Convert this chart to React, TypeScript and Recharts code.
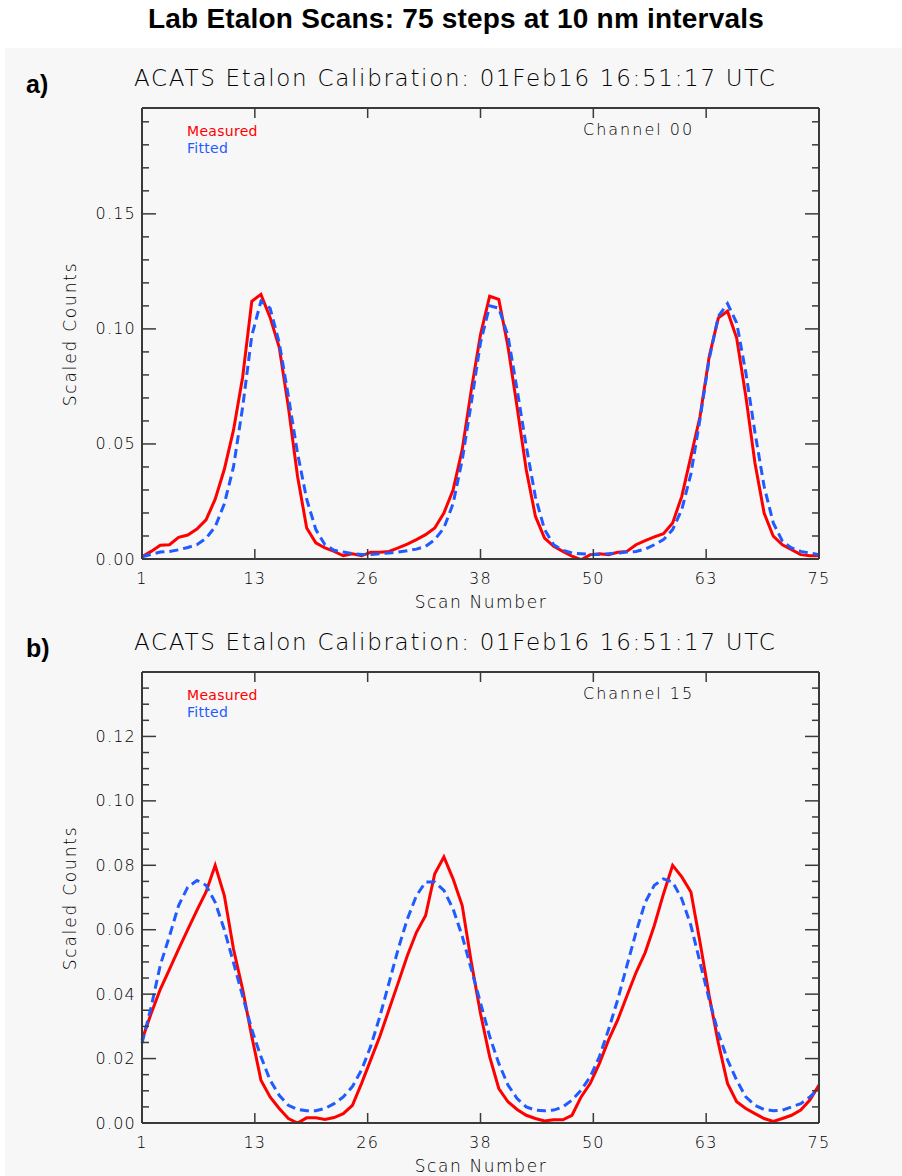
import React from "react";
import { LineChart, Line, XAxis, YAxis } from "recharts";

// scan index 1..75
const scans = Array.from({ length: 75 }, (_, i) => i + 1);

// panel a) channel 00
const measuredA = [
  0.001, 0.0033, 0.006, 0.0062, 0.0094, 0.0104, 0.013, 0.017, 0.026, 0.039,
  0.056, 0.079, 0.112, 0.115, 0.105, 0.092, 0.066, 0.036, 0.0135, 0.007,
  0.0048, 0.0033, 0.0014, 0.0023, 0.0014, 0.0029, 0.0029, 0.0033, 0.0048, 0.0065,
  0.0084, 0.0106, 0.0135, 0.02, 0.03, 0.0475, 0.0736, 0.0975, 0.1142, 0.1128,
  0.0925, 0.066, 0.0388, 0.0186, 0.0091, 0.0055, 0.0033, 0.0012, -0.0003, 0.0019,
  0.0023, 0.0019, 0.0029, 0.0033, 0.0062, 0.008, 0.0096, 0.011, 0.0157, 0.0272,
  0.0446, 0.062, 0.088, 0.1048, 0.1077, 0.096, 0.0707, 0.0417, 0.02, 0.0099,
  0.0062, 0.0041, 0.0019, 0.0014, 0.0014,
];
const fittedA = [
  0.001, 0.002, 0.003, 0.0033, 0.004, 0.005, 0.0062, 0.009, 0.014, 0.024,
  0.04, 0.066, 0.097, 0.112, 0.109, 0.094, 0.0707, 0.046, 0.026, 0.0128,
  0.0062, 0.0038, 0.003, 0.0023, 0.002, 0.002, 0.0023, 0.0026, 0.003, 0.0036,
  0.0043, 0.0055, 0.0084, 0.0135, 0.024, 0.043, 0.068, 0.094, 0.11, 0.109,
  0.097, 0.0736, 0.049, 0.027, 0.0128, 0.0062, 0.0038, 0.0026, 0.0023, 0.002,
  0.002, 0.0023, 0.0026, 0.003, 0.0033, 0.0043, 0.0062, 0.0084, 0.0128, 0.0215,
  0.037, 0.061, 0.087, 0.1055, 0.111, 0.1026, 0.081, 0.055, 0.0316, 0.0157,
  0.0077, 0.0048, 0.0033, 0.0026, 0.0019,
];

// panel b) channel 15
const measuredB = [
  0.0258, 0.034, 0.0415, 0.0477, 0.054, 0.06, 0.066, 0.0717, 0.08, 0.0706,
  0.054, 0.0415, 0.0269, 0.0133, 0.0081, 0.0045, 0.0014, 0.0, 0.0016, 0.0016,
  0.0011, 0.0017, 0.0029, 0.0055, 0.0123, 0.0196, 0.0269, 0.0352, 0.0435, 0.0519,
  0.0592, 0.0644, 0.0774, 0.0826, 0.0758, 0.0675, 0.0498, 0.034, 0.0206, 0.0107,
  0.0066, 0.0042, 0.0024, 0.0014, 0.0006, 0.001, 0.001, 0.0024, 0.0081, 0.0123,
  0.0185, 0.0258, 0.032, 0.0394, 0.0467, 0.0529, 0.0613, 0.0711, 0.08, 0.0764,
  0.0717, 0.056, 0.0394, 0.0248, 0.0123, 0.0066, 0.0045, 0.0029, 0.0014, 0.0005,
  0.0014, 0.0024, 0.004, 0.0071, 0.0118,
];
const fittedB = [
  0.0248, 0.036, 0.049, 0.058, 0.0675, 0.0732, 0.0753, 0.0738, 0.0685, 0.06,
  0.0498, 0.0394, 0.029, 0.0206, 0.0133, 0.0086, 0.0055, 0.0042, 0.0038, 0.0038,
  0.0045, 0.006, 0.0081, 0.0113, 0.0165, 0.0238, 0.0331, 0.0435, 0.054, 0.0633,
  0.0706, 0.0748, 0.0748, 0.0722, 0.0665, 0.058, 0.0477, 0.0373, 0.0269, 0.0185,
  0.0118, 0.0076, 0.005, 0.004, 0.0038, 0.004, 0.005, 0.0071, 0.0102, 0.0144,
  0.0206, 0.029, 0.0383, 0.0488, 0.0592, 0.0685, 0.0738, 0.0758, 0.0748, 0.0696,
  0.0613, 0.0498, 0.0383, 0.0279, 0.0196, 0.0133, 0.0081, 0.0055, 0.0042, 0.0038,
  0.004, 0.005, 0.006, 0.0081, 0.0107,
];

// x axis: 6 equal intervals, labels rounded
const xTicks = [1, 13.333, 25.667, 38, 50.333, 62.667, 75];
const xTickLabels = ["1", "13", "26", "38", "50", "63", "75"];

const yMajorA = [0, 0.05, 0.1, 0.15];
const yLabelsA = ["0.00", "0.05", "0.10", "0.15"];
const yMinorA = [
  0, 0.01, 0.02, 0.03, 0.04, 0.05, 0.06, 0.07, 0.08, 0.09, 0.1, 0.11, 0.12,
  0.13, 0.14, 0.15, 0.16, 0.17, 0.18, 0.19,
];
const yMaxA = 0.196;

const yMajorB = [0, 0.02, 0.04, 0.06, 0.08, 0.1, 0.12];
const yLabelsB = ["0.00", "0.02", "0.04", "0.06", "0.08", "0.10", "0.12"];
const yMinorB = [
  0, 0.005, 0.01, 0.015, 0.02, 0.025, 0.03, 0.035, 0.04, 0.045, 0.05, 0.055,
  0.06, 0.065, 0.07, 0.075, 0.08, 0.085, 0.09, 0.095, 0.1, 0.105, 0.11, 0.115,
  0.12, 0.125, 0.13, 0.135,
];
const yMaxB = 0.14;

const AXIS = "#3a3a3a";
const TXT = "#000";
const RED = "#ff0000";
const BLUE = "#1f5bff";
const idlFont = "'DejaVu Sans', sans-serif";
const IDL_WEIGHT = 300;
const boldFont = "'Liberation Sans', Arial, sans-serif";

const findMajor = (majors: number[], v: number) =>
  majors.findIndex((m) => Math.abs(m - v) < 1e-6);

const makeYTick = (majors: number[], labels: string[], side: "left" | "right") =>
  (props: any) => {
    const { x, y, payload } = props;
    const idx = findMajor(majors, payload.value);
    const len = idx >= 0 ? 14 : 7;
    const dir = side === "left" ? 1 : -1;
    return (
      <g>
        <line x1={x} x2={x + dir * len} y1={y} y2={y} stroke={AXIS} strokeWidth={1.5} />
        {side === "left" && idx >= 0 && (
          <text
            x={x - 6}
            y={y}
            dominantBaseline="central"
            textAnchor="end"
            fontFamily={idlFont}
            fontWeight={IDL_WEIGHT}
            fontSize={16}
            letterSpacing={1.2}
            fill={TXT}
          >
            {labels[idx]}
          </text>
        )}
      </g>
    );
  };

const makeXTick = (side: "top" | "bottom") => (props: any) => {
  const { x, y, payload } = props;
  const idx = findMajor(xTicks, payload.value);
  const dir = side === "bottom" ? -1 : 1;
  return (
    <g>
      <line x1={x} x2={x} y1={y} y2={y + dir * 10} stroke={AXIS} strokeWidth={1.5} />
      {side === "bottom" && (
        <text
          x={x}
          y={y + 19}
          dominantBaseline="central"
          textAnchor="middle"
          fontFamily={idlFont}
          fontWeight={IDL_WEIGHT}
          fontSize={16}
          letterSpacing={1.2}
          fill={TXT}
        >
          {xTickLabels[idx]}
        </text>
      )}
    </g>
  );
};

type PanelProps = {
  top: number;
  letter: string;
  channel: string;
  measured: number[];
  fitted: number[];
  yMajor: number[];
  yLabels: string[];
  yMinor: number[];
  yMax: number;
};

// plot box: x 142..819, y top+58..top+509
function Panel({ top, letter, channel, measured, fitted, yMajor, yLabels, yMinor, yMax }: PanelProps) {
  const data = scans.map((s, i) => ({ scan: s, measured: measured[i], fitted: fitted[i] }));
  const plotTop = top + 58;
  const plotBottom = top + 509;
  const text = (style: React.CSSProperties, children: React.ReactNode) => (
    <div
      style={{
        position: "absolute",
        whiteSpace: "nowrap",
        fontFamily: idlFont,
        fontWeight: IDL_WEIGHT,
        color: TXT,
        ...style,
      }}
    >
      {children}
    </div>
  );
  return (
    <>
      <div
        style={{
          position: "absolute",
          left: 26,
          top: plotTop - 39,
          fontFamily: boldFont,
          fontWeight: 700,
          fontSize: 25,
          color: "#000",
          lineHeight: "30px",
        }}
      >
        {letter}
      </div>
      {text(
        { left: 134, top: plotTop - 43, fontSize: 23, letterSpacing: 1.7, lineHeight: "26px" },
        "ACATS Etalon Calibration: 01Feb16 16:51:17 UTC"
      )}
      {text(
        {
          left: 187,
          top: plotTop + 14,
          fontSize: 14,
          fontWeight: 400,
          letterSpacing: 0.3,
          color: RED,
          lineHeight: "18px",
        },
        "Measured"
      )}
      {text(
        {
          left: 187,
          top: plotTop + 31,
          fontSize: 14,
          fontWeight: 400,
          letterSpacing: 0.3,
          color: BLUE,
          lineHeight: "18px",
        },
        "Fitted"
      )}
      {text(
        { left: 583, top: plotTop + 12, fontSize: 16, letterSpacing: 2, lineHeight: "20px" },
        channel
      )}
      {text(
        {
          left: 481,
          top: plotBottom + 43,
          fontSize: 17,
          letterSpacing: 1.6,
          lineHeight: "20px",
          transform: "translate(-50%, -50%)",
        },
        "Scan Number"
      )}
      {text(
        {
          left: 70,
          top: (plotTop + plotBottom) / 2,
          fontSize: 17,
          letterSpacing: 1.8,
          lineHeight: "20px",
          transform: "translate(-50%, -50%) rotate(-90deg)",
        },
        "Scaled Counts"
      )}
      <div style={{ position: "absolute", left: 0, top }}>
        <LineChart
          width={902}
          height={570}
          data={data}
          margin={{ top: 48, right: 73, bottom: 31, left: 82 }}
        >
          <XAxis
            xAxisId="b"
            dataKey="scan"
            type="number"
            domain={[1, 75]}
            ticks={xTicks}
            interval={0}
            height={30}
            tickSize={0}
            tickMargin={0}
            axisLine={{ stroke: AXIS, strokeWidth: 2 }}
            tickLine={false}
            tick={makeXTick("bottom")}
          />
          <XAxis
            xAxisId="t"
            orientation="top"
            dataKey="scan"
            type="number"
            domain={[1, 75]}
            ticks={xTicks}
            interval={0}
            height={10}
            tickSize={0}
            tickMargin={0}
            axisLine={{ stroke: AXIS, strokeWidth: 2 }}
            tickLine={false}
            tick={makeXTick("top")}
          />
          <YAxis
            yAxisId="l"
            type="number"
            domain={[0, yMax]}
            allowDataOverflow
            ticks={yMinor}
            interval={0}
            width={60}
            tickSize={0}
            tickMargin={0}
            axisLine={{ stroke: AXIS, strokeWidth: 2 }}
            tickLine={false}
            tick={makeYTick(yMajor, yLabels, "left")}
          />
          <YAxis
            yAxisId="r"
            orientation="right"
            type="number"
            domain={[0, yMax]}
            allowDataOverflow
            ticks={yMinor}
            interval={0}
            width={10}
            tickSize={0}
            tickMargin={0}
            axisLine={{ stroke: AXIS, strokeWidth: 2 }}
            tickLine={false}
            tick={makeYTick(yMajor, yLabels, "right")}
          />
          <Line
            xAxisId="b"
            yAxisId="l"
            type="linear"
            dataKey="measured"
            stroke={RED}
            strokeWidth={3}
            dot={false}
            activeDot={false}
            isAnimationActive={false}
          />
          <Line
            xAxisId="b"
            yAxisId="l"
            type="linear"
            dataKey="fitted"
            stroke={BLUE}
            strokeWidth={3}
            strokeDasharray="9 5"
            dot={false}
            activeDot={false}
            isAnimationActive={false}
          />
        </LineChart>
      </div>
    </>
  );
}

export default function App() {
  return (
    <div style={{ position: "relative", width: 902, height: 1176, background: "#fff", overflow: "hidden" }}>
      <style>{`body{margin:0}`}</style>
      <div style={{ position: "absolute", left: 5, top: 48, width: 897, height: 1128, background: "#f7f7f7" }} />
      <div
        style={{
          position: "absolute",
          left: 0,
          width: 902,
          top: 3,
          textAlign: "center",
          fontFamily: boldFont,
          fontWeight: 700,
          fontSize: 28,
          letterSpacing: 0.2,
          lineHeight: "32px",
          color: "#000",
          paddingLeft: 10,
          boxSizing: "border-box",
        }}
      >
        Lab Etalon Scans: 75 steps at 10 nm intervals
      </div>
      <Panel
        top={50}
        letter="a)"
        channel="Channel 00"
        measured={measuredA}
        fitted={fittedA}
        yMajor={yMajorA}
        yLabels={yLabelsA}
        yMinor={yMinorA}
        yMax={yMaxA}
      />
      <Panel
        top={614}
        letter="b)"
        channel="Channel 15"
        measured={measuredB}
        fitted={fittedB}
        yMajor={yMajorB}
        yLabels={yLabelsB}
        yMinor={yMinorB}
        yMax={yMaxB}
      />
    </div>
  );
}
